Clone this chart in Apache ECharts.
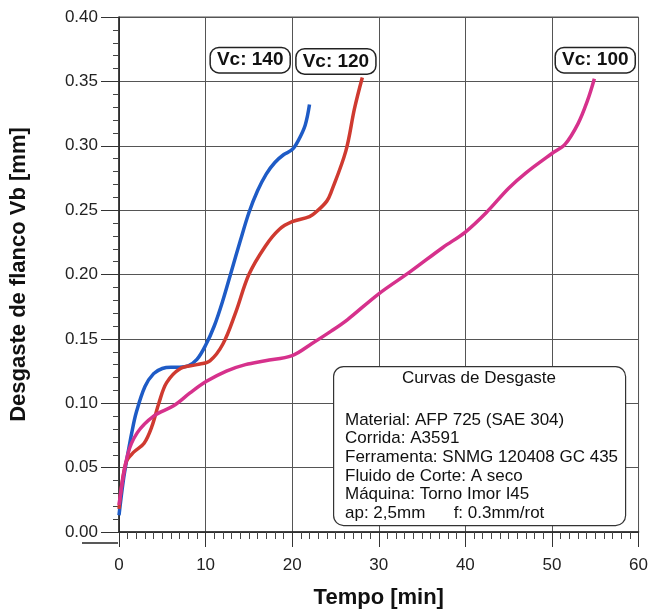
<!DOCTYPE html>
<html>
<head>
<meta charset="utf-8">
<script src="https://cdn.jsdelivr.net/npm/echarts@6/dist/echarts.min.js"></script>
<style>
  html, body { margin: 0; padding: 0; background: #fff; }
  #chart { width: 651px; height: 614px; }
</style>
</head>
<body>
<div id="chart"></div>
<script>
// Vc 140 (blue)
const t140 = [0, 0.5, 1, 1.5, 2, 3, 4, 5, 6, 7, 8, 9, 10, 11, 12, 13, 14, 15, 16, 17, 18, 19, 20, 20.7, 21.5, 22];
const vb140 = [0.013, 0.04, 0.06, 0.078, 0.093, 0.113, 0.123, 0.127, 0.128, 0.128, 0.129, 0.134, 0.145, 0.16, 0.18, 0.203, 0.226, 0.248, 0.265, 0.278, 0.287, 0.293, 0.297, 0.304, 0.316, 0.332];
// Vc 120 (red)
const t120 = [0, 0.8, 1.7, 2.9, 3.8, 4.6, 5.5, 7.1, 9, 10.5, 12, 13.5, 15, 16.9, 18.5, 20, 22, 23, 24, 24.5, 26.2, 27.2, 28.1];
const vb120 = [0.018, 0.054, 0.062, 0.069, 0.082, 0.1, 0.116, 0.127, 0.13, 0.133, 0.146, 0.171, 0.2, 0.222, 0.235, 0.241, 0.245, 0.25, 0.257, 0.264, 0.296, 0.329, 0.353];
// Vc 100 (magenta)
const t100 = [0, 1, 2.1, 4, 6.3, 8.2, 10.1, 12.4, 14.6, 16.9, 20, 22.2, 24.5, 26.4, 30, 33.6, 37.4, 40, 42.4, 45, 47, 50, 51.5, 53, 54.1, 54.9];
const vb100 = [0.021, 0.06, 0.077, 0.09, 0.098, 0.108, 0.117, 0.125, 0.13, 0.133, 0.137, 0.146, 0.156, 0.165, 0.185, 0.202, 0.221, 0.233, 0.248, 0.267, 0.279, 0.294, 0.301, 0.317, 0.335, 0.352];

const seriesNames = ['Vc: 140', 'Vc: 120', 'Vc: 100'];
const seriesColors = ['#1e5bc6', '#cf3a30', '#d6318c'];
// where the name boxes sit (data coords)
const labelAt = [[15.15, 0.3665], [25.05, 0.3655], [55.0, 0.3665]];

const infoTitle = 'Curvas de Desgaste';
const infoLines = [
  'Material: AFP 725 (SAE 304)',
  'Corrida: A3591',
  'Ferramenta: SNMG 120408 GC 435',
  'Fluido de Corte: A seco',
  'Máquina: Torno Imor I45',
  'ap: 2,5mm      f: 0.3mm/rot'
];

const font = 'Arial, "Liberation Sans", sans-serif';

function pairs(xs, ys) {
  return xs.map(function (x, i) { return [x, ys[i]]; });
}

const chart = echarts.init(document.getElementById('chart'));

const allData = [pairs(t140, vb140), pairs(t120, vb120), pairs(t100, vb100)];

const series = allData.map(function (d, i) {
  return {
    name: seriesNames[i],
    type: 'line',
    data: d,
    smooth: 0.35,
    showSymbol: false,
    lineStyle: { color: seriesColors[i], width: 3.5 },
    z: 5,
    markPoint: {
      symbol: 'rect',
      symbolSize: 1,
      itemStyle: { color: 'rgba(0,0,0,0)' },
      label: {
        show: true,
        position: 'inside',
        formatter: seriesNames[i],
        fontFamily: font,
        fontWeight: 'bold',
        fontSize: 19,
        color: '#111',
        backgroundColor: '#fff',
        borderColor: '#222',
        borderWidth: 1.5,
        borderRadius: 8,
        padding: [3, 6, 2, 6]
      },
      data: [{ coord: labelAt[i] }]
    }
  };
});

const lineGap = 18.7;
const infoGraphics = [
  {
    type: 'rect',
    left: 333, top: 366,
    shape: { width: 292, height: 159, r: 10 },
    style: { fill: '#fff', stroke: '#333', lineWidth: 1.2 },
    z: 10
  },
  {
    type: 'text',
    x: 479, y: 378,
    style: {
      text: infoTitle, font: '17px ' + font, fill: '#111',
      align: 'center', verticalAlign: 'middle'
    },
    z: 11
  },
  {
    // x axis line runs a little past the y axis, as in the source
    type: 'line',
    shape: { x1: 82, y1: 543, x2: 118, y2: 543 },
    style: { stroke: '#222', lineWidth: 1.5 },
    z: 10
  }
].concat(infoLines.map(function (s, i) {
  return {
    type: 'text',
    x: 345, y: 420 + i * lineGap,
    style: {
      text: s, font: '17px ' + font, fill: '#111',
      align: 'left', verticalAlign: 'middle'
    },
    z: 11
  };
}));

const option = {
  animation: false,
  backgroundColor: '#fff',
  grid: {
    left: 118, right: 6, top: 17, bottom: 71,
    show: true, borderColor: '#555', borderWidth: 1
  },
  xAxis: {
    type: 'value',
    min: 0, max: 60, interval: 10,
    name: 'Tempo [min]',
    nameLocation: 'middle',
    nameGap: 55,
    nameTextStyle: { fontFamily: font, fontWeight: 'bold', fontSize: 22, color: '#111' },
    axisLine: { show: true, lineStyle: { color: '#222', width: 1.5 } },
    axisTick: { show: true, length: 15, lineStyle: { color: '#333' } },
    minorTick: { show: true, splitNumber: 10, length: 7, lineStyle: { color: '#444' } },
    axisLabel: { fontFamily: font, fontSize: 17, color: '#222', margin: 25 },
    splitLine: { show: true, lineStyle: { color: '#555', width: 1 } }
  },
  yAxis: {
    type: 'value',
    min: 0, max: 0.4, interval: 0.05,
    name: 'Desgaste de flanco Vb [mm]',
    nameLocation: 'middle',
    nameGap: 89,
    nameRotate: 90,
    nameTextStyle: { fontFamily: font, fontWeight: 'bold', fontSize: 22, color: '#111' },
    axisLine: { show: true, lineStyle: { color: '#222', width: 1.5 } },
    axisTick: { show: true, length: 18, lineStyle: { color: '#333' } },
    minorTick: { show: true, splitNumber: 5, length: 6, lineStyle: { color: '#444' } },
    axisLabel: {
      fontFamily: font, fontSize: 17, color: '#222', margin: 21,
      formatter: function (v) { return v.toFixed(2); }
    },
    splitLine: { show: true, lineStyle: { color: '#555', width: 1 } }
  },
  series: series,
  graphic: infoGraphics
};

chart.setOption(option);
window.addEventListener('resize', function () {
  chart.resize();
});
</script>
</body>
</html>
